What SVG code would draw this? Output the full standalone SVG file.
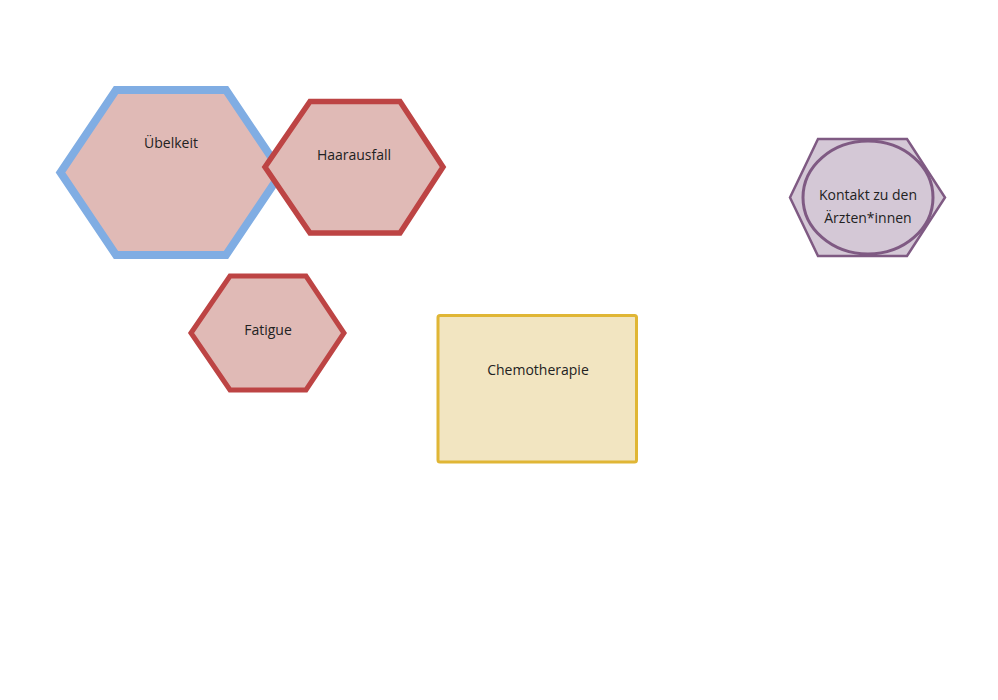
<svg xmlns="http://www.w3.org/2000/svg" width="998" height="700" viewBox="0 0 998 700">
<style>
.lbl{font-family:"Open Sans","Liberation Sans",sans-serif;font-size:14px;fill:#222;text-anchor:middle}
.sym{fill:#e0bab6;stroke-linejoin:miter}
</style>
<rect width="998" height="700" fill="#fff"/>
<g id="connectors"></g>
<g id="uebelkeit">
<polygon class="sym" points="60.5,172.5 116,90 226,90 281.5,172.5 226,255 116,255" stroke="#80ade3" stroke-width="8"/>
<text class="lbl" x="171" y="148">Übelkeit</text>
</g>
<g id="haarausfall">
<polygon class="sym" points="265,167 310,101.5 400,101.5 443,167 400,233 310,233" stroke="#bd4444" stroke-width="5.5"/>
<text class="lbl" x="354" y="160">Haarausfall</text>
</g>
<g id="fatigue">
<polygon class="sym" points="191,333 230,276 306,276 344,333 306,390 230,390" stroke="#bd4444" stroke-width="5"/>
<text class="lbl" x="268" y="335">Fatigue</text>
</g>
<g id="chemotherapie">
<rect x="438" y="315.5" width="198.5" height="146.5" rx="2" fill="#f2e5c1" stroke="#e0b635" stroke-width="3"/>
<text class="lbl" x="538" y="375">Chemotherapie</text>
</g>
<g id="kontakt">
<polygon points="790,197.5 818,139 907,139 945,197.5 907,256 818,256" fill="#d4c8d6" stroke="#7f5a83" stroke-width="2.5"/>
<ellipse cx="868" cy="197.5" rx="65" ry="56.5" fill="#d4c8d6" stroke="#7f5a83" stroke-width="3"/>
<text class="lbl" x="868" y="200">Kontakt zu den</text>
<text class="lbl" x="868" y="223">Ärzten*innen</text>
</g>
</svg>
